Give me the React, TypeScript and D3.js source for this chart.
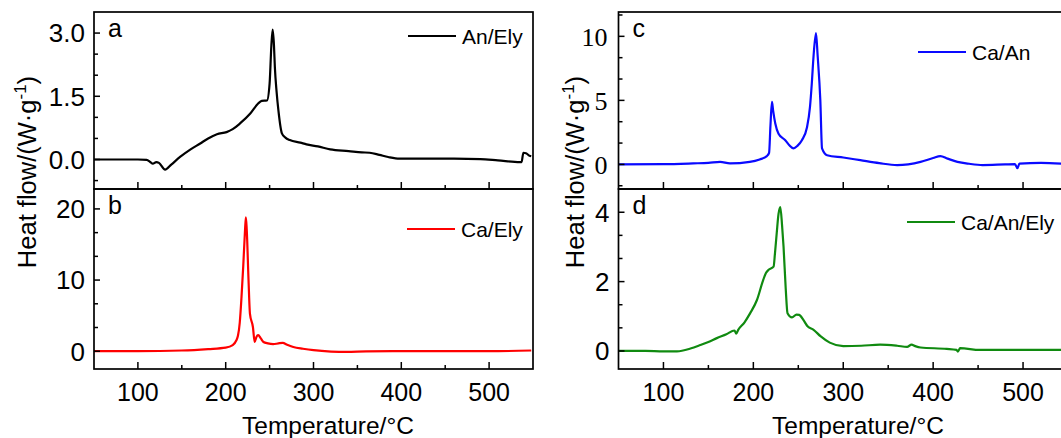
import React from "react";
import * as d3 from "d3";

// ---- Data (Temperature °C, heat flow W/g) ----
const aT = [50, 80, 100, 110, 114, 117, 121, 124, 131, 138, 148, 160, 171, 180, 190, 201, 208, 216, 228, 237, 241, 247, 250, 252, 253.5, 255, 256, 258, 260, 264, 268, 273, 285, 292, 305, 319, 340, 355, 364, 375, 385, 398, 420, 460, 490, 510, 535, 537, 539, 542, 546, 548];
const aV = [0, 0, 0, -0.01, -0.06, -0.1, -0.06, -0.08, -0.24, -0.12, 0.06, 0.24, 0.38, 0.5, 0.6, 0.65, 0.72, 0.85, 1.09, 1.33, 1.39, 1.4, 1.8, 2.7, 3.08, 2.7, 2.19, 1.6, 1.17, 0.62, 0.52, 0.46, 0.4, 0.36, 0.31, 0.24, 0.2, 0.17, 0.16, 0.11, 0.06, 0.02, 0.02, 0.02, 0.01, -0.02, -0.06, -0.06, 0.16, 0.15, 0.09, 0.08];

const bT = [50, 100, 150, 180, 200, 208, 212, 214, 216, 218, 220, 222, 223, 224, 226, 227.6, 231, 233, 235, 237, 240, 243, 248, 254, 260, 265, 270, 277, 288, 300, 320, 338, 360, 390, 450, 500, 548];
const bV = [0, 0, 0.1, 0.3, 0.5, 0.85, 1.5, 2.2, 4, 7.6, 12, 17, 18.8, 17, 10, 5.3, 3.4, 1.3, 2.0, 2.25, 1.8, 1.3, 1.1, 0.99, 1.1, 1.17, 0.9, 0.6, 0.35, 0.14, -0.05, -0.1, -0.02, 0, 0, 0, 0.1];

const cT = [50, 100, 133, 150, 163, 174, 196, 207, 215, 217.5, 219, 220.7, 222, 224.4, 228, 235.5, 240, 244.8, 249, 254, 259.7, 263, 265, 267, 269.7, 271.5, 274.5, 276.4, 282, 300, 319, 340, 360, 386, 400, 408, 416, 427, 440, 455, 480, 491, 493.7, 496, 520, 550];
const cV = [0, 0.02, 0.08, 0.12, 0.2, 0.08, 0.2, 0.39, 0.65, 0.9, 3, 4.88, 4.2, 3.2, 2.4, 1.89, 1.5, 1.25, 1.45, 1.89, 2.9, 4.5, 6.3, 8.5, 10.25, 8.5, 5, 1.25, 0.72, 0.54, 0.33, 0.1, -0.05, 0.2, 0.5, 0.65, 0.45, 0.2, 0.05, -0.05, 0, 0.02, -0.3, 0.06, 0.12, 0.03];

const dT = [50, 80, 100, 115, 130, 141, 150, 159.4, 170, 179, 181, 183, 190, 196.5, 204, 211, 214, 217, 222.5, 224, 226, 228, 230, 232, 233.6, 236, 238, 243, 248, 251, 256, 260, 267, 275, 285, 300, 320, 341, 360, 371, 376, 380, 386, 415, 426, 427.5, 430, 452, 500, 550];
const dV = [0, 0, -0.01, -0.01, 0.07, 0.17, 0.26, 0.37, 0.48, 0.59, 0.5, 0.6, 0.82, 1.09, 1.47, 2.05, 2.25, 2.34, 2.43, 2.8, 3.4, 3.95, 4.15, 3.6, 3.0, 1.8, 1.09, 0.97, 1.05, 1.04, 0.88, 0.72, 0.61, 0.42, 0.24, 0.14, 0.15, 0.18, 0.15, 0.12, 0.18, 0.14, 0.1, 0.06, 0.03, -0.02, 0.08, 0.03, 0.03, 0.03];

const xMajor = [100, 200, 300, 400, 500];
const xMinor = [150, 250, 350, 450];
const aMajor = [0, 1.5, 3.0];
const aLabels = ["0.0", "1.5", "3.0"];
const bMajor = [0, 10, 20];
const cMajor = [0, 5, 10];
const dMajor = [0, 2, 4];
const xLabel = "Temperature/°C";

type Panel = {
  T: number[]; V: number[]; color: string; name: string; letter: string;
  x0: number; x1: number; y0: number; y1: number; dom: [number, number];
  major: number[]; labels: string[]; minorStep: number; serif: boolean;
  legX: number; legY: number; showX: boolean;
};

const SANS = "'Liberation Sans', Arial, sans-serif";
const SERIF = "'Liberation Serif', 'Times New Roman', serif";

function PanelView({ p }: { p: Panel }) {
  const x = d3.scaleLinear().domain([50, 550]).range([p.x0, p.x1]);
  const y = d3.scaleLinear().domain(p.dom).range([p.y1, p.y0]);
  const pts = p.T.map((t, i) => [t, p.V[i]] as [number, number]);
  const line = d3.line<[number, number]>().x(d => x(d[0])).y(d => y(d[1])).curve(d3.curveMonotoneX);
  const minors: number[] = [];
  const step = p.minorStep;
  for (let k = Math.ceil(p.dom[0] / step); k * step < p.dom[1]; k++) {
    const v = k * step;
    if (p.major.some(m => Math.abs(m - v) < 1e-6)) continue;
    const py = y(v);
    if (py > p.y1 - 2 || py < p.y0 + 2) continue;
    minors.push(v);
  }
  const clipId = "clip" + p.letter;
  return (
    <g>
      <defs>
        <clipPath id={clipId}>
          <rect x={p.x0} y={p.y0} width={p.x1 - p.x0} height={p.y1 - p.y0} />
        </clipPath>
      </defs>
      <path d={line(pts) || ""} fill="none" stroke={p.color} strokeWidth={2.2} clipPath={`url(#${clipId})`} strokeLinejoin="round" />
      <rect x={p.x0} y={p.y0} width={p.x1 - p.x0} height={p.y1 - p.y0} fill="none" stroke="#000" strokeWidth={1.7} />
      {xMajor.map(t => (
        <line key={"xM" + t} x1={x(t)} x2={x(t)} y1={p.y1} y2={p.y1 - 7} stroke="#000" strokeWidth={1.5} />
      ))}
      {xMinor.map(t => (
        <line key={"xm" + t} x1={x(t)} x2={x(t)} y1={p.y1} y2={p.y1 - 4} stroke="#000" strokeWidth={1.5} />
      ))}
      {p.major.map((v, i) => (
        <g key={"yM" + v}>
          <line x1={p.x0} x2={p.x0 + 6} y1={y(v)} y2={y(v)} stroke="#000" strokeWidth={1.5} />
          <text x={p.x0 - (p.serif ? 11 : 9)} y={y(v)} dy="0.36em" textAnchor="end"
            fontFamily={p.serif ? SERIF : SANS} fontSize={p.serif ? 26 : 26} fill="#000">{p.labels[i]}</text>
        </g>
      ))}
      {minors.map(v => (
        <line key={"ym" + v} x1={p.x0} x2={p.x0 + 4} y1={y(v)} y2={y(v)} stroke="#000" strokeWidth={1.5} />
      ))}
      {p.showX && xMajor.map(t => (
        <text key={"xl" + t} x={x(t)} y={p.y1 + 32} textAnchor="middle" fontFamily={SANS} fontSize={25} fill="#000">{t}</text>
      ))}
      <text x={p.x0 + 14} y={p.y0 + 25} fontFamily={SANS} fontSize={25} fill="#000">{p.letter}</text>
      <line x1={p.legX} x2={p.legX + 48} y1={p.legY} y2={p.legY} stroke={p.color} strokeWidth={2.2} />
      <text x={p.legX + 54} y={p.legY} dy="0.36em" fontFamily={SANS} fontSize={21} fill="#000">{p.name}</text>
    </g>
  );
}

export default function App() {
  const panels: Panel[] = [
    { T: aT, V: aV, color: "#000000", name: "An/Ely", letter: "a", x0: 94, x1: 533, y0: 12, y1: 189, dom: [-0.7, 3.5], major: aMajor, labels: aLabels, minorStep: 0.5, serif: false, legX: 408, legY: 36, showX: false },
    { T: bT, V: bV, color: "#ff0000", name: "Ca/Ely", letter: "b", x0: 94, x1: 533, y0: 189, y1: 369, dom: [-2.5, 22.8], major: bMajor, labels: bMajor.map(String), minorStep: 10 / 3, serif: false, legX: 407, legY: 229, showX: true },
    { T: cT, V: cV, color: "#0a0aff", name: "Ca/An", letter: "c", x0: 618.5, x1: 1068, y0: 12, y1: 189, dom: [-1.92, 11.9], major: cMajor, labels: cMajor.map(String), minorStep: 5 / 3, serif: true, legX: 918, legY: 52, showX: false },
    { T: dT, V: dV, color: "#108a10", name: "Ca/An/Ely", letter: "d", x0: 618.5, x1: 1068, y0: 189, y1: 369, dom: [-0.52, 4.67], major: dMajor, labels: dMajor.map(String), minorStep: 2 / 3, serif: false, legX: 907, legY: 222, showX: true },
  ];
  const yLabel = (xb: number, yc: number) => (
    <text transform={`translate(${xb},${yc}) rotate(-90)`} textAnchor="middle" fontFamily={SANS} fontSize={25.5} fill="#000">
      Heat flow/(W·g<tspan fontSize={17} dy={-10}>-1</tspan><tspan dy={10}>)</tspan>
    </text>
  );
  return (
    <svg width={1061} height={438} style={{ position: "absolute", left: 0, top: 0, background: "#fff" }}>
      <rect width={1061} height={438} fill="#fff" />
      {panels.map(p => <PanelView key={p.letter} p={p} />)}
      {yLabel(36, 172)}
      {yLabel(584, 172)}
      <text x={328} y={434} textAnchor="middle" fontFamily={SANS} fontSize={24.5} fill="#000">{xLabel}</text>
      <text x={858} y={434} textAnchor="middle" fontFamily={SANS} fontSize={24.5} fill="#000">{xLabel}</text>
    </svg>
  );
}
